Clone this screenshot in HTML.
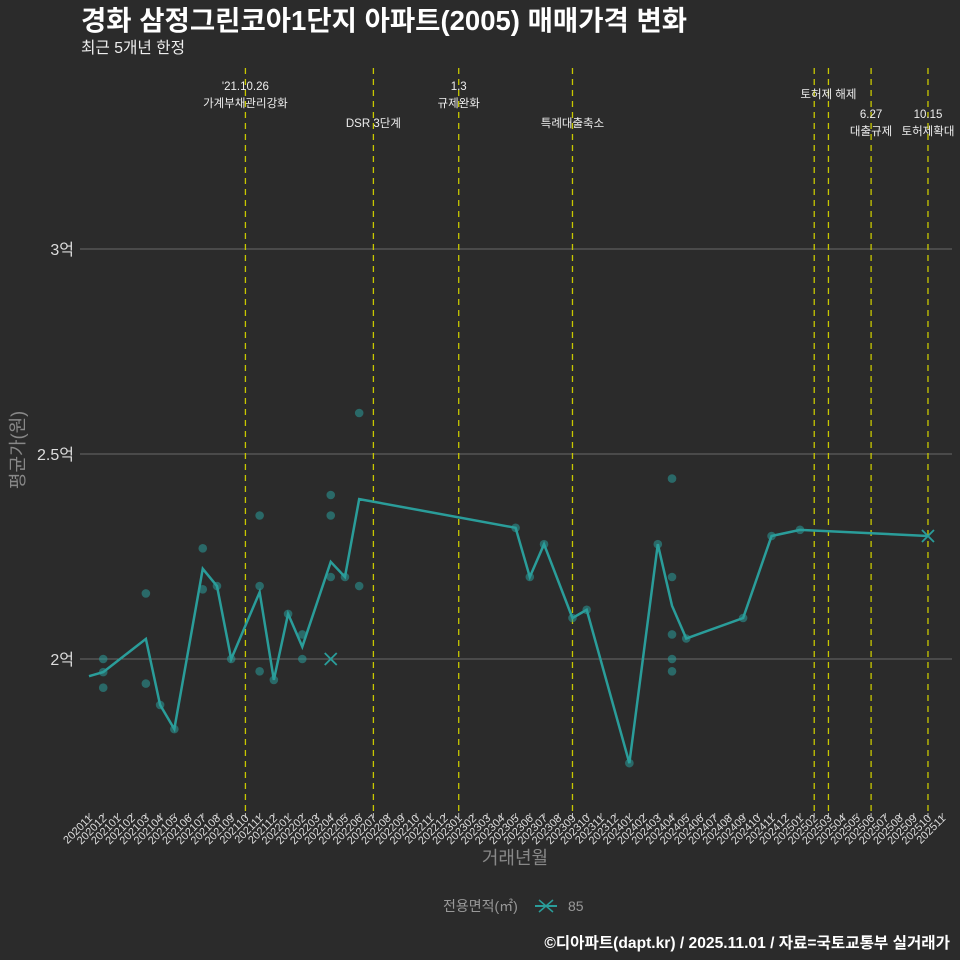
<!DOCTYPE html>
<html><head><meta charset="utf-8"><style>
body{margin:0;background:#2b2b2b;}
svg{display:block;font-family:"Liberation Sans","Noto Sans CJK KR",sans-serif;}
</style></head><body>
<svg id="chart" width="960" height="960">
<rect width="960" height="960" fill="#2b2b2b"/>
<text x="81" y="30" font-size="27.5" font-weight="bold" fill="#fff">경화 삼정그린코아1단지 아파트(2005) 매매가격 변화</text>
<text x="81" y="53" font-size="15.7" fill="#eee">최근 5개년 한정</text>
<g id="grid"></g><g id="vlines"></g><g id="xaxis"></g><g id="marks"></g>
<text x="24" y="450" font-size="18" fill="#888" transform="rotate(-90 24 450)" text-anchor="middle">평균가(원)</text>
<text x="515" y="864" font-size="18" fill="#888" text-anchor="middle">거래년월</text>
<g>
<text x="443" y="911" font-size="14" fill="#999">전용면적(㎡)</text>
<line x1="535" y1="906" x2="557" y2="906" stroke="#2a9d9a" stroke-width="2"/>
<path d="M539 900 L553 912 M553 900 L539 912" stroke="#2a9d9a" stroke-width="1.5"/>
<text x="568" y="911" font-size="14" fill="#999">85</text>
</g>
<text x="950" y="948" font-size="15.6" font-weight="bold" fill="#fff" text-anchor="end">©디아파트(dapt.kr) / 2025.11.01 / 자료=국토교통부 실거래가</text>
</svg>
<script>
const months=[];for(let y=2020,m=11;months.length<61;){months.push(y+String(m).padStart(2,'0'));m++;if(m>12){m=1;y++;}}
const yTicks=[2,2.5,3];
const yTickLabels=['2억','2.5억','3억'];
const lineMonths=['202011','202012','202103','202104','202105','202107','202108','202109','202111','202112','202201','202202','202204','202205','202206','202305','202306','202307','202309','202310','202401','202403','202404','202405','202409','202411','202501','202510'];
const lineValues=[1.958,1.968,2.049,1.888,1.829,2.22,2.178,2.0,2.163,1.949,2.11,2.03,2.237,2.2,2.39,2.32,2.2,2.28,2.1,2.12,1.746,2.28,2.13,2.05,2.1,2.3,2.315,2.3];
const ptMonths=['202012','202012','202012','202103','202103','202104','202105','202107','202107','202108','202109','202111','202111','202111','202112','202201','202202','202202','202204','202204','202204','202205','202206','202206','202305','202306','202307','202309','202310','202401','202403','202404','202404','202404','202404','202404','202405','202409','202411','202501'];
const ptValues=[2.0,1.968,1.93,2.16,1.94,1.888,1.829,2.27,2.17,2.178,2.0,2.35,2.178,1.97,1.949,2.11,2.06,2.0,2.4,2.35,2.2,2.2,2.6,2.178,2.32,2.2,2.28,2.1,2.12,1.746,2.28,2.44,2.2,2.06,2.0,1.97,2.05,2.1,2.3,2.315];
const crossMonths=['202204','202510'];
const crossValues=[2.0,2.3];
const eventMonths=['202110','202207','202301','202309','202502','202503','202506','202510'];
const eventLine1=["'21.10.26",'','1.3','','','','6.27','10.15'];
const eventLine2=['가계부채관리강화','DSR 3단계','규제완화','특례대출축소','','토허제 해제','대출규제','토허제확대'];
const eventY=[90,127,90,127,98,98,118,118];
const NS='http://www.w3.org/2000/svg';
const X=m=>89+14.22*months.indexOf(m);
const Y=v=>659-(v-2)*410;
function mk(p,t,a){const e=document.createElementNS(NS,t);for(const k in a)e.setAttribute(k,a[k]);p.appendChild(e);return e;}
const grid=document.getElementById('grid');
yTicks.forEach((v,i)=>{
 const l=mk(grid,'line',{x1:80,x2:952,y1:Y(v),y2:Y(v),stroke:'#6a6a6a','stroke-width':1});
 
 
 const t=mk(grid,'text',{x:74,y:Y(v)+6,'font-size':16,fill:'#ddd','text-anchor':'end'});t.textContent=yTickLabels[i];
 
 
});
const vl=document.getElementById('vlines');
eventMonths.forEach((m,i)=>{
 const x=X(m);
 const l=mk(vl,'line',{x1:x,x2:x,y1:68,y2:812,stroke:'#c8c800','stroke-width':1.3,'stroke-dasharray':'6,5'});
 
 
 const y=eventY[i];
 if(eventLine1[i]){const t=mk(vl,'text',{x:x,y:y,'font-size':11.5,fill:'#eee','text-anchor':'middle'});t.textContent=eventLine1[i];
 
 }
 if(eventLine2[i]){const t=mk(vl,'text',{x:x,y:eventLine1[i]?y+17:y,'font-size':11.5,fill:'#eee','text-anchor':'middle'});t.textContent=eventLine2[i];
 
 }
});
const xa=document.getElementById('xaxis');
months.forEach(m=>{
 const x=X(m);
 const l=mk(xa,'line',{x1:x,x2:x,y1:813,y2:818,stroke:'#bbb'});
 
 
 const t=mk(xa,'text',{x:x+4,y:819,'font-size':11,fill:'#ddd','text-anchor':'end',transform:`rotate(-45 ${x+4} 819)`});t.textContent=m;
 
 
});
const mg=document.getElementById('marks');
ptMonths.forEach((m,i)=>{
 const c=mk(mg,'circle',{cx:X(m),cy:Y(ptValues[i]),r:4.3,fill:'#2a9d9a','fill-opacity':0.55});
 
 
});
const p=mk(mg,'polyline',{points:lineMonths.map((m,i)=>X(m)+','+Y(lineValues[i])).join(' '),fill:'none',stroke:'#2a9d9a','stroke-width':2.5});


crossMonths.forEach((m,i)=>{
 const x=X(m),y=Y(crossValues[i]);
 const c=mk(mg,'path',{d:`M${x-6} ${y-6}L${x+6} ${y+6}M${x+6} ${y-6}L${x-6} ${y+6}`,stroke:'#2a9d9a','stroke-width':1.8});
 
 
});
</script>
</body></html>
